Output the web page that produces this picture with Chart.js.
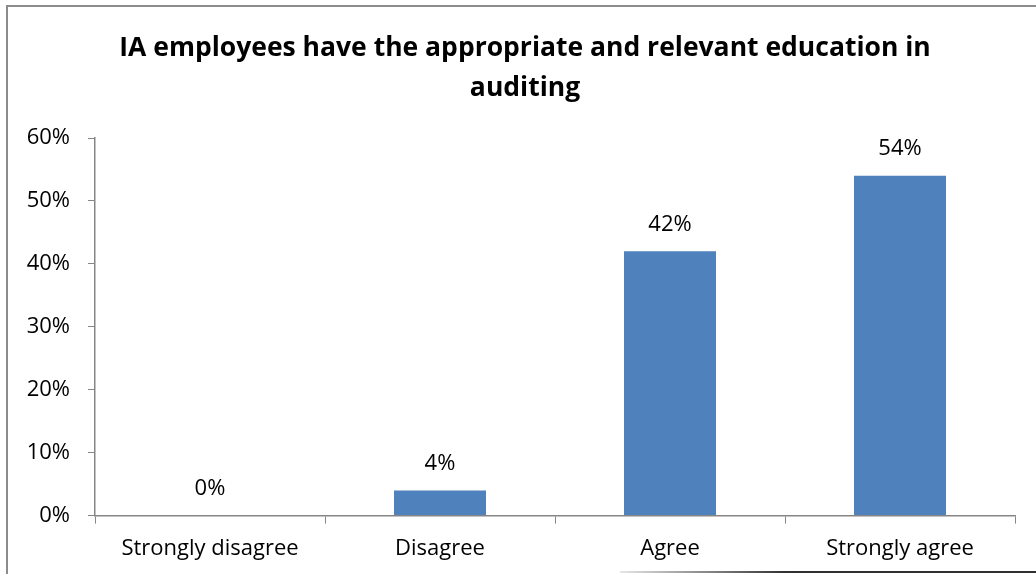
<!DOCTYPE html>
<html>
<head>
<meta charset="utf-8">
<script src="https://cdn.jsdelivr.net/npm/chart.js@4"></script>
<style>
  html, body { margin: 0; padding: 0; background: #fff; }
  #wrap { position: relative; width: 1036px; height: 574px; overflow: hidden; }
  #frame {
    position: absolute; left: 6px; top: 5px; right: -10px; bottom: -10px;
    border-left: 2px solid #8c8c8c; border-top: 2px solid #8c8c8c;
  }
  #edge {
    position: absolute; left: 620px; right: 0; bottom: 1px; height: 2px;
    background: linear-gradient(to right, #e6e6e6, #303030 40%);
  }
  canvas { position: absolute; left: 0; top: 0; }
</style>
</head>
<body>
<div id="wrap">
  <div id="frame"></div>
  <div id="edge"></div>
  <canvas id="chart" width="1036" height="574"></canvas>
</div>
<script>
const titleLines = ["IA employees have the appropriate and relevant education in", "auditing"];
const categories = ["Strongly disagree", "Disagree", "Agree", "Strongly agree"];
const shares = [0, 4, 42, 54];
const yTicks = [0, 10, 20, 30, 40, 50, 60];

const FONT = "'Open Sans', Lato, sans-serif";
const AXIS = "#868686";

// two-line bold heading, centred a little right of the canvas middle
const heading = {
  id: "heading",
  afterDraw(chart) {
    const ctx = chart.ctx;
    ctx.save();
    ctx.font = "bold 26.5px " + FONT;
    ctx.fillStyle = "#000";
    ctx.textAlign = "center";
    ctx.textBaseline = "middle";
    titleLines.forEach((line, i) => ctx.fillText(line, 525, 48 + i * 40));
    ctx.restore();
  },
};

// writes "NN%" above each bar
const barValues = {
  id: "barValues",
  afterDatasetsDraw(chart) {
    const ctx = chart.ctx;
    const meta = chart.getDatasetMeta(0);
    ctx.save();
    ctx.font = "22px " + FONT;
    ctx.fillStyle = "#000";
    ctx.textAlign = "center";
    ctx.textBaseline = "middle";
    meta.data.forEach((bar, i) => {
      ctx.fillText(shares[i] + "%", bar.x, bar.y - 27);
    });
    ctx.restore();
  },
};

new Chart(document.getElementById("chart"), {
  type: "bar",
  data: {
    labels: categories,
    datasets: [
      {
        data: shares,
        backgroundColor: "#4F81BD",
        categoryPercentage: 1,
        barPercentage: 0.4,
      },
    ],
  },
  options: {
    responsive: false,
    animation: false,
    layout: { padding: { left: 0, right: 21, top: 138, bottom: 0 } },
    plugins: {
      legend: { display: false },
      tooltip: { enabled: false },
      title: { display: false },
    },
    scales: {
      x: {
        grid: { drawOnChartArea: false, drawTicks: true, tickLength: 8, color: AXIS, offset: true },
        border: { display: true, color: AXIS, width: 1.5 },
        ticks: { color: "#000", font: { family: FONT, size: 22 }, padding: 12, maxRotation: 0 },
      },
      y: {
        min: 0,
        max: 60,
        afterBuildTicks: (s) => { s.ticks = yTicks.map((v) => ({ value: v })); },
        afterFit: (s) => { s.width = 95; },
        grid: { drawOnChartArea: false, drawTicks: true, tickLength: 7, color: AXIS },
        border: { display: true, color: AXIS, width: 1.5 },
        ticks: {
          color: "#000",
          font: { family: FONT, size: 22 },
          padding: 18,
          callback: (v) => v + "%",
        },
      },
    },
  },
  plugins: [barValues, heading],
});
</script>
</body>
</html>
